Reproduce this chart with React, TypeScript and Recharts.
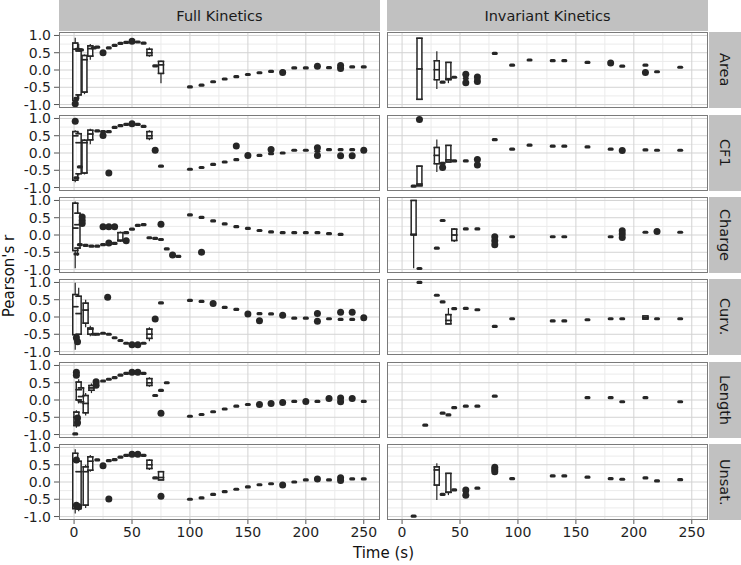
import { CartesianGrid, ComposedChart, ErrorBar, Scatter, XAxis, YAxis } from "recharts";

type Box = [number, number, number, number, number, number]; // t, lo, q1, med, q3, hi
type Pt = [number, number]; // t, r

const COLUMNS = ["Full Kinetics", "Invariant Kinetics"];
const FACETS = ["Area", "CF1", "Charge", "Curv.", "Length", "Unsat."];
const X_TICKS = [0, 50, 100, 150, 200, 250];
const X_MINOR = [25, 75, 125, 175, 225];
const Y_TICKS = [-1, -0.5, 0, 0.5, 1];
const Y_MINOR = [-0.75, -0.25, 0.25, 0.75];

// ---- Full Kinetics ----
const fullAreaBoxes: Box[] = [
  [1, -0.95, -0.88, 0.6, 0.78, 0.93],
  [4, -0.8, -0.72, 0.55, 0.6, 0.75],
  [9, -0.7, -0.64, 0.3, 0.42, 0.45],
  [14, 0.3, 0.4, 0.62, 0.7, 0.75],
  [65, 0.38, 0.42, 0.5, 0.6, 0.65],
  [75, -0.38, -0.1, 0.15, 0.25, 0.27],
];
const fullAreaDashes: Pt[] = [
  [2, -0.82], [3, 0.6], [6, 0.58], [17, 0.64], [20, 0.66], [30, 0.64], [35, 0.71], [40, 0.77],
  [45, 0.8], [55, 0.81], [60, 0.78], [70, 0.12], [100, -0.49], [110, -0.44], [120, -0.34],
  [130, -0.26], [140, -0.19], [150, -0.13], [160, -0.08], [170, -0.04], [180, -0.04], [190, 0.06],
  [200, 0.06], [220, 0.07], [230, 0.08], [240, 0.09], [250, 0.09],
];
const fullAreaDots: Pt[] = [
  [1, -0.98], [25, 0.5], [50, 0.83], [180, -0.07], [210, 0.11], [230, 0.13], [230, 0.04],
];

const fullCf1Boxes: Box[] = [
  [1, -0.85, -0.79, 0.5, 0.62, 0.66],
  [4, -0.65, -0.6, 0.3, 0.56, 0.6],
  [9, -0.62, -0.58, 0.3, 0.37, 0.4],
  [14, 0.25, 0.38, 0.55, 0.66, 0.7],
  [65, 0.37, 0.42, 0.5, 0.62, 0.66],
];
const fullCf1Dashes: Pt[] = [
  [2, -0.72], [5, -0.4], [20, 0.64], [25, 0.62], [30, 0.62], [35, 0.74], [40, 0.79], [45, 0.83],
  [55, 0.83], [60, 0.77], [75, -0.38], [100, -0.47], [110, -0.42], [120, -0.33], [130, -0.26],
  [140, -0.19], [150, -0.1], [160, -0.07], [170, -0.02], [180, 0.0], [190, 0.08], [200, 0.08],
  [210, 0.05], [220, 0.1], [230, 0.1], [240, 0.1],
];
const fullCf1Dots: Pt[] = [
  [1, 0.92], [25, 0.51], [30, -0.58], [50, 0.85], [70, 0.08], [140, 0.2], [150, -0.07], [170, 0.1],
  [210, 0.15], [210, -0.07], [230, -0.08], [240, -0.08], [250, 0.08],
];

const fullChargeBoxes: Box[] = [
  [1, -0.96, -0.45, 0.2, 0.92, 0.97],
  [3, -0.6, -0.38, 0.3, 0.63, 0.7],
  [40, -0.2, -0.17, -0.15, 0.07, 0.1],
];
const fullChargeDashes: Pt[] = [
  [2, -0.55], [5, -0.28], [10, -0.3], [15, -0.32], [20, -0.32], [25, -0.28], [35, -0.24],
  [45, 0.07], [50, 0.17], [55, 0.28], [60, 0.3], [65, -0.08], [70, -0.1], [75, -0.13], [80, -0.4],
  [85, -0.6], [90, -0.62], [100, 0.58], [110, 0.51], [120, 0.41], [130, 0.32], [140, 0.24],
  [150, 0.19], [160, 0.13], [170, 0.09], [180, 0.07], [190, 0.07], [200, 0.07], [210, 0.07],
  [220, 0.04], [230, 0.02],
];
const fullChargeDots: Pt[] = [
  [7, 0.52], [7, 0.42], [7, 0.33], [25, 0.24], [30, 0.24], [35, 0.24], [30, -0.23], [45, -0.17],
  [75, 0.31], [85, -0.58], [110, -0.5],
];

const fullCurvBoxes: Box[] = [
  [1, -0.95, -0.51, 0.3, 0.65, 0.99],
  [4, -0.7, -0.5, 0.1, 0.6, 0.85],
  [10, -0.3, -0.18, 0.2, 0.4, 0.5],
  [14, -0.56, -0.5, -0.35, -0.32, -0.25],
  [65, -0.7, -0.62, -0.5, -0.35, -0.3],
];
const fullCurvDashes: Pt[] = [
  [17, -0.5], [20, -0.5], [25, -0.47], [30, -0.5], [35, -0.6], [40, -0.68], [45, -0.76],
  [60, -0.76], [75, 0.41], [100, 0.48], [110, 0.45], [130, 0.28], [140, 0.22], [160, 0.1],
  [170, 0.09], [190, -0.03], [200, -0.03], [220, -0.05], [230, -0.07], [240, -0.07],
];
const fullCurvDots: Pt[] = [
  [2, -0.6], [3, -0.72], [29, 0.57], [50, -0.8], [55, -0.8], [70, -0.06], [120, 0.39], [150, 0.09],
  [160, -0.11], [180, 0.05], [210, 0.1], [210, -0.12], [230, 0.14], [240, 0.14], [250, -0.02],
];

const fullLengthBoxes: Box[] = [
  [2, -0.8, -0.74, -0.5, -0.35, -0.3],
  [4, -0.1, 0.0, 0.3, 0.52, 0.6],
  [6, -0.1, -0.05, 0.1, 0.35, 0.4],
  [10, -0.45, -0.37, -0.1, 0.13, 0.2],
  [15, 0.2, 0.28, 0.35, 0.42, 0.48],
  [65, 0.38, 0.42, 0.5, 0.62, 0.66],
];
const fullLengthDashes: Pt[] = [
  [1, -0.98], [25, 0.55], [30, 0.6], [35, 0.65], [40, 0.72], [45, 0.77], [60, 0.77], [70, 0.13],
  [75, 0.28], [80, 0.5], [100, -0.47], [110, -0.42], [120, -0.34], [130, -0.26], [140, -0.18],
  [150, -0.13], [190, -0.04], [210, -0.04], [250, -0.04],
];
const fullLengthDots: Pt[] = [
  [2, 0.8], [2, 0.72], [3, -0.52], [3, -0.66], [19, 0.53], [19, 0.43], [50, 0.8], [55, 0.8],
  [75, -0.38], [160, -0.13], [170, -0.1], [180, -0.07], [200, -0.04], [220, 0.04], [230, 0.06],
  [230, -0.05], [240, 0.04],
];

const fullUnsatBoxes: Box[] = [
  [1, -0.91, -0.77, 0.6, 0.83, 0.95],
  [4, -0.85, -0.77, 0.3, 0.6, 0.7],
  [10, -0.75, -0.67, 0.3, 0.44, 0.5],
  [14, 0.3, 0.34, 0.6, 0.73, 0.78],
  [65, 0.35, 0.39, 0.5, 0.63, 0.66],
  [75, 0.06, 0.06, 0.13, 0.3, 0.32],
];
const fullUnsatDashes: Pt[] = [
  [20, 0.64], [30, 0.62], [35, 0.65], [40, 0.72], [45, 0.77], [60, 0.77], [70, 0.12], [100, -0.5],
  [110, -0.46], [120, -0.36], [130, -0.28], [140, -0.21], [150, -0.14], [160, -0.08], [170, -0.05],
  [190, 0.0], [200, 0.06], [220, 0.06], [240, 0.09], [250, 0.09],
];
const fullUnsatDots: Pt[] = [
  [2, 0.64], [2, -0.67], [4, -0.72], [25, 0.47], [30, -0.49], [50, 0.8], [55, 0.8], [75, -0.41],
  [180, -0.09], [210, 0.09], [230, 0.12], [230, 0.04],
];

// ---- Invariant Kinetics ----
const invAreaBoxes: Box[] = [
  [15, -0.86, -0.85, 0.03, 0.92, 0.93],
  [30, -0.55, -0.28, 0.01, 0.27, 0.54],
  [40, -0.38, -0.28, -0.25, 0.22, 0.22],
];
const invAreaDashes: Pt[] = [
  [35, -0.35], [45, -0.21], [55, -0.24], [65, -0.27], [80, 0.48], [95, 0.14], [110, 0.29],
  [130, 0.27], [140, 0.27], [160, 0.22], [190, 0.11], [210, 0.14], [220, -0.05], [240, 0.08],
];
const invAreaDots: Pt[] = [
  [55, -0.12], [55, -0.37], [65, -0.2], [65, -0.33], [180, 0.2], [210, -0.07],
];

const invCf1Boxes: Box[] = [
  [15, -0.95, -0.95, -0.9, -0.38, -0.38],
  [30, -0.55, -0.31, -0.07, 0.16, 0.39],
  [40, -0.26, -0.26, -0.2, 0.22, 0.22],
];
const invCf1Dashes: Pt[] = [
  [10, -0.96], [35, -0.3], [45, -0.23], [55, -0.23], [80, 0.39], [95, 0.11], [110, 0.23],
  [130, 0.2], [140, 0.2], [160, 0.18], [180, 0.11], [210, 0.09], [220, 0.08], [240, 0.08],
];
const invCf1Dots: Pt[] = [[15, 0.97], [35, -0.42], [65, -0.19], [65, -0.35], [190, 0.07]];

const invChargeBoxes: Box[] = [
  [10, -0.96, 0.0, 0.02, 1.0, 1.0],
  [45, -0.2, -0.16, 0.0, 0.17, 0.2],
];
const invChargeDashes: Pt[] = [
  [15, -0.97], [30, -0.38], [35, 0.42], [55, 0.18], [65, 0.18], [95, -0.05], [130, -0.05],
  [140, -0.05], [180, -0.05], [210, 0.08], [240, 0.08],
];
const invChargeDots: Pt[] = [
  [80, -0.05], [80, -0.17], [80, -0.28], [190, 0.12], [190, 0.03], [190, -0.07], [220, 0.1],
];

const invCurvBoxes: Box[] = [
  [40, -0.2, -0.2, -0.1, 0.07, 0.26],
  [210, -0.06, -0.06, -0.02, 0.03, 0.03],
];
const invCurvDashes: Pt[] = [
  [15, 1.0], [30, 0.63], [35, 0.44], [45, 0.24], [55, 0.25], [65, 0.21], [80, -0.27], [95, -0.05],
  [130, -0.11], [140, -0.11], [160, -0.08], [180, -0.05], [190, -0.05], [220, -0.05], [240, -0.05],
];
const invCurvDots: Pt[] = [];

const invLengthBoxes: Box[] = [];
const invLengthDashes: Pt[] = [
  [20, -0.73], [35, -0.38], [40, -0.43], [45, -0.22], [55, -0.18], [65, -0.18], [80, 0.11],
  [160, 0.07], [180, 0.07], [190, -0.05], [210, 0.07], [240, -0.05],
];
const invLengthDots: Pt[] = [];

const invUnsatBoxes: Box[] = [
  [30, -0.52, -0.09, 0.35, 0.44, 0.54],
  [40, -0.38, -0.3, -0.3, 0.25, 0.25],
];
const invUnsatDashes: Pt[] = [
  [10, -0.99], [35, -0.36], [45, -0.23], [55, -0.28], [65, -0.18], [95, 0.1], [130, 0.18],
  [140, 0.18], [160, 0.14], [180, 0.1], [190, 0.08], [210, 0.12], [220, 0.03], [240, 0.07],
];
const invUnsatDots: Pt[] = [[55, -0.23], [55, -0.38], [80, 0.43], [80, 0.36], [80, 0.3]];

const PANELS: [Box[], Pt[], Pt[]][][] = [
  [
    [fullAreaBoxes, fullAreaDashes, fullAreaDots],
    [fullCf1Boxes, fullCf1Dashes, fullCf1Dots],
    [fullChargeBoxes, fullChargeDashes, fullChargeDots],
    [fullCurvBoxes, fullCurvDashes, fullCurvDots],
    [fullLengthBoxes, fullLengthDashes, fullLengthDots],
    [fullUnsatBoxes, fullUnsatDashes, fullUnsatDots],
  ],
  [
    [invAreaBoxes, invAreaDashes, invAreaDots],
    [invCf1Boxes, invCf1Dashes, invCf1Dots],
    [invChargeBoxes, invChargeDashes, invChargeDots],
    [invCurvBoxes, invCurvDashes, invCurvDots],
    [invLengthBoxes, invLengthDashes, invLengthDots],
    [invUnsatBoxes, invUnsatDashes, invUnsatDots],
  ],
];

const INK = "#262626";
const FONT = "'DejaVu Sans', sans-serif";
const PANEL_W = 321;
const PANEL_H = 76;
const COL_LEFT = [59, 387];
const ROW_TOP = [32, 115, 197, 279, 362, 444];
const Y_AXIS_W = 59;
const X_AXIS_H = 30;
const PAD = 8; // room above/below the plot so the end tick labels are not clipped
const X_DOMAIN: [number, number] = [-13, 264];
const Y_DOMAIN: [number, number] = [-1.1, 1.1];

const noShape = () => <g />;
const dashShape = (p: any) => (
  <rect x={p.cx - 3} y={p.cy - 1.6} width={6} height={3.2} rx={1.5} fill={INK} />
);
const dotShape = (p: any) => <circle cx={p.cx} cy={p.cy} r={3.5} fill={INK} />;

function Panel({ col, row }: { col: number; row: number }) {
  const [boxes, dashes, dots] = PANELS[col][row];
  const showY = col === 0;
  const showX = row === FACETS.length - 1;
  const yw = showY ? Y_AXIS_W : 0;
  const bottom = showX ? X_AXIS_H : PAD;

  const boxData = boxes.map(([t, lo, q1, med, q3, hi]) => ({
    t,
    v: med,
    whisker: [med - lo, hi - med],
    box: [med - q1, q3 - med],
    inner: [med - q1, q3 - med],
  }));
  const edgeData = boxes.flatMap(([t, , q1, med, q3]) =>
    [q1, med, q3].map((v) => ({ t, v, flat: [0, 0] }))
  );
  const dashData = dashes.map(([t, v]) => ({ t, v }));
  const dotData = dots.map(([t, v]) => ({ t, v }));

  return (
    <div style={{ position: "absolute", left: COL_LEFT[col] - yw, top: ROW_TOP[row] - PAD }}>
      <ComposedChart
        width={PANEL_W + yw}
        height={PANEL_H + PAD + bottom}
        margin={{ top: PAD, right: 0, bottom: showX ? 0 : PAD, left: 0 }}
      >
        <CartesianGrid stroke="#ebebeb" horizontalValues={Y_MINOR} verticalValues={X_MINOR} />
        <CartesianGrid stroke="#d3d3d3" horizontalValues={Y_TICKS} verticalValues={X_TICKS} />
        <XAxis
          type="number"
          dataKey="t"
          domain={X_DOMAIN}
          allowDataOverflow
          ticks={X_TICKS}
          interval={0}
          hide={!showX}
          height={X_AXIS_H}
          axisLine={false}
          tickSize={4}
          tickMargin={3}
          tickLine={{ stroke: "#555" }}
          tick={{ fontSize: 14, fill: "#1f1f1f" }}
        />
        <YAxis
          type="number"
          dataKey="v"
          domain={Y_DOMAIN}
          allowDataOverflow
          ticks={Y_TICKS}
          interval={0}
          hide={!showY}
          width={Y_AXIS_W}
          axisLine={false}
          tickSize={5}
          tickMargin={3}
          tickLine={{ stroke: "#555" }}
          tick={{ fontSize: 14, fill: "#1f1f1f" }}
          tickFormatter={(v: number) => v.toFixed(1)}
        />
        <Scatter data={boxData} shape={noShape} isAnimationActive={false}>
          <ErrorBar dataKey="whisker" direction="y" width={0} stroke={INK} strokeWidth={1.2} isAnimationActive={false} />
          <ErrorBar dataKey="box" direction="y" width={0} stroke={INK} strokeWidth={6.4} isAnimationActive={false} />
          <ErrorBar dataKey="inner" direction="y" width={0} stroke="#ffffff" strokeWidth={3.4} isAnimationActive={false} />
        </Scatter>
        <Scatter data={edgeData} shape={noShape} isAnimationActive={false}>
          <ErrorBar dataKey="flat" direction="y" width={3.2} stroke={INK} strokeWidth={1.4} isAnimationActive={false} />
        </Scatter>
        <Scatter data={dashData} shape={dashShape} isAnimationActive={false} />
        <Scatter data={dotData} shape={dotShape} isAnimationActive={false} />
      </ComposedChart>
    </div>
  );
}

const stripBase: React.CSSProperties = {
  position: "absolute",
  background: "#c1c1c1",
  boxSizing: "border-box",
  display: "flex",
  alignItems: "center",
  justifyContent: "center",
  fontSize: 14.5,
  color: "#1a1a1a",
};

export default function App() {
  return (
    <div
      style={{
        position: "absolute",
        left: 0,
        top: 0,
        width: 741,
        height: 565,
        background: "#ffffff",
        fontFamily: FONT,
        overflow: "hidden",
      }}
    >
      {COLUMNS.map((c, col) => (
        <div
          key={c}
          style={{ ...stripBase, left: COL_LEFT[col], top: 0, width: PANEL_W, height: 31 }}
        >
          {c}
        </div>
      ))}
      {FACETS.map((f, row) => (
        <div
          key={f}
          style={{
            ...stripBase,
            left: 709,
            top: ROW_TOP[row],
            width: 32,
            height: PANEL_H,
            writingMode: "vertical-rl",
          }}
        >
          {f}
        </div>
      ))}
      {COLUMNS.map((c, col) =>
        FACETS.map((f, row) => <Panel key={c + f} col={col} row={row} />)
      )}
      {COLUMNS.map((c, col) =>
        FACETS.map((f, row) => (
          <div
            key={"b" + c + f}
            style={{
              position: "absolute",
              left: COL_LEFT[col],
              top: ROW_TOP[row],
              width: PANEL_W,
              height: PANEL_H,
              border: "1px solid #7a7a7a",
              boxSizing: "border-box",
              pointerEvents: "none",
            }}
          />
        ))
      )}
      <div
        style={{
          position: "absolute",
          left: 59,
          top: 543,
          width: 649,
          textAlign: "center",
          fontSize: 15,
          lineHeight: "20px",
          color: "#111",
        }}
      >
        Time (s)
      </div>
      <div
        style={{
          position: "absolute",
          left: 9 - 100,
          top: 276 - 10,
          width: 200,
          textAlign: "center",
          fontSize: 15,
          lineHeight: "20px",
          color: "#111",
          transform: "rotate(-90deg)",
        }}
      >
        Pearson's r
      </div>
    </div>
  );
}
